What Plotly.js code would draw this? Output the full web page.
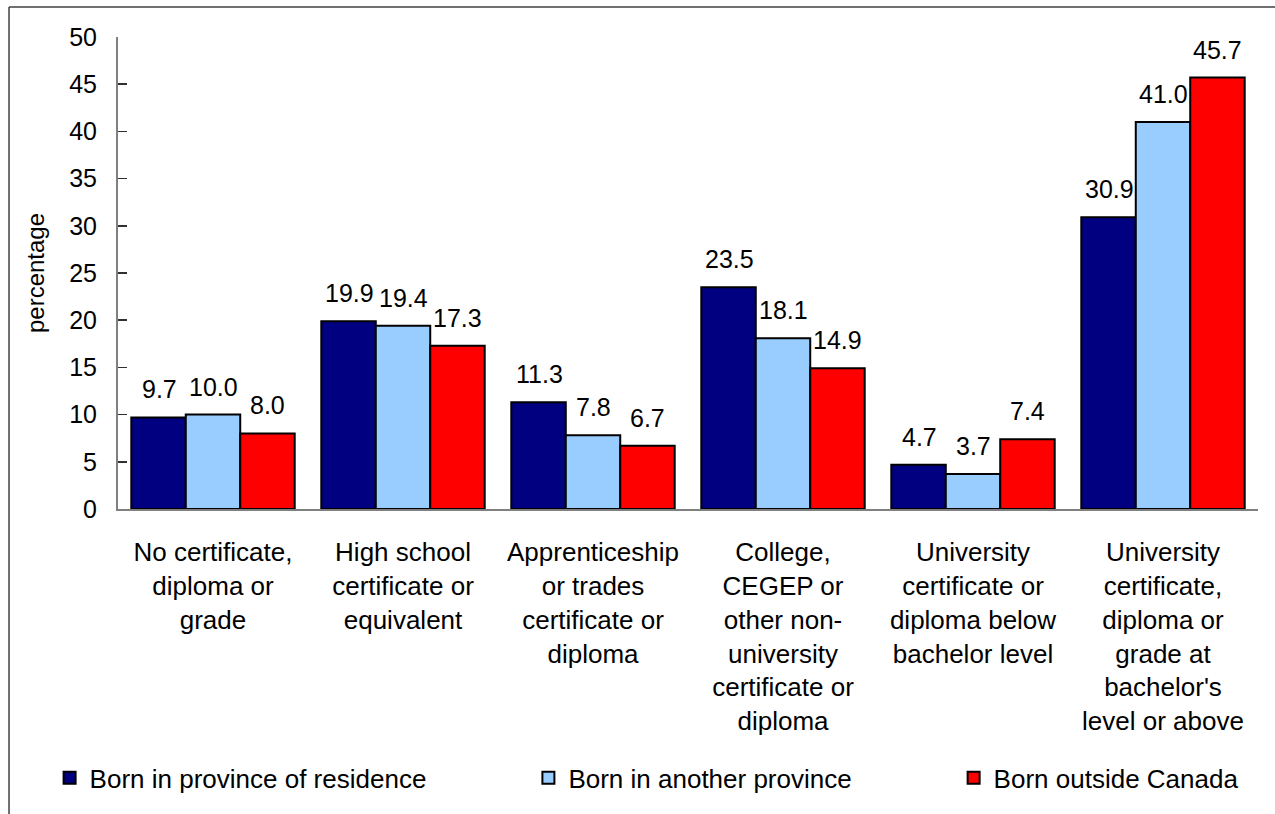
<!DOCTYPE html>
<html>
<head>
<meta charset="utf-8">
<script src="https://cdn.plot.ly/plotly-3.0.1.min.js"></script>
<style>
html,body{margin:0;padding:0;background:#fff;}
#chart{width:1275px;height:814px;}
</style>
</head>
<body>
<div id="chart"></div>
<script>
var categories = [
  "No certificate,<br>diploma or<br>grade",
  "High school<br>certificate or<br>equivalent",
  "Apprenticeship<br>or trades<br>certificate or<br>diploma",
  "College,<br>CEGEP or<br>other non-<br>university<br>certificate or<br>diploma",
  "University<br>certificate or<br>diploma below<br>bachelor level",
  "University<br>certificate,<br>diploma or<br>grade at<br>bachelor's<br>level or above"
];
var seriesNames = ["Born in province of residence", "Born in another province", "Born outside Canada"];
var bornProvince = [9.7, 19.9, 11.3, 23.5, 4.7, 30.9];
var bornAnother = [10.0, 19.4, 7.8, 18.1, 3.7, 41.0];
var bornOutside = [8.0, 17.3, 6.7, 14.9, 7.4, 45.7];
var yTicks = [0, 5, 10, 15, 20, 25, 30, 35, 40, 45, 50];

var seriesValues = [bornProvince, bornAnother, bornOutside];
var colors = ["#000080", "#99CCFF", "#FF0000"];
var legendIds = ["legend", "legend2", "legend3"];
var FONT = "Liberation Sans, Arial, sans-serif";

var traces = seriesValues.map(function(vals, i) {
  return {
    type: "bar",
    x: categories,
    y: vals,
    name: seriesNames[i],
    legend: legendIds[i],
    marker: {color: colors[i], line: {color: "#000000", width: 2}},
    hoverinfo: "skip"
  };
});

// data labels as annotations, shifted to each bar of the group
var barPx = 54;
var annotations = [];
seriesValues.forEach(function(vals, i) {
  vals.forEach(function(v, j) {
    annotations.push({
      x: categories[j], y: v, xref: "x", yref: "y",
      text: v.toFixed(1), showarrow: false,
      xanchor: "center", yanchor: "bottom",
      xshift: (i - 1) * barPx, yshift: 12,
      font: {family: FONT, size: 25, color: "#000"}
    });
  });
});

function legendAt(x) {
  return {
    x: x, y: -0.52, xanchor: "left", yanchor: "top",
    orientation: "h", bgcolor: "rgba(0,0,0,0)",
    font: {family: FONT, size: 26, color: "#000"},
    itemclick: false, itemdoubleclick: false
  };
}

var layout = {
  width: 1275, height: 814,
  margin: {l: 118, r: 17, t: 37, b: 303, pad: 0},
  paper_bgcolor: "#ffffff", plot_bgcolor: "#ffffff",
  font: {family: FONT, size: 25, color: "#000"},
  barmode: "group", bargap: 0.14, bargroupgap: 0,
  showlegend: true,
  legend: legendAt(-0.060),
  legend2: legendAt(0.360),
  legend3: legendAt(0.733),
  xaxis: {
    type: "category",
    showline: true, linecolor: "#808080", linewidth: 2,
    ticks: "", showgrid: false, zeroline: false,
    tickfont: {family: FONT, size: 26, color: "#000"},
    ticklabelstandoff: 19,
    automargin: false
  },
  yaxis: {
    range: [0, 50], tickvals: yTicks, ticktext: yTicks.map(String),
    showline: true, linecolor: "#808080", linewidth: 2,
    ticks: "inside", ticklen: 9, tickwidth: 1.5, tickcolor: "#303030",
    showgrid: false, zeroline: false,
    tickfont: {family: FONT, size: 25, color: "#000"},
    ticklabelstandoff: 14,
    title: {text: "percentage", font: {family: FONT, size: 24, color: "#000"}, standoff: 18},
    automargin: false
  },
  annotations: annotations,
  shapes: [
    {type: "line", xref: "paper", yref: "paper", x0: -0.0956, x1: -0.0956, y0: 1.0633, y1: -0.7,
     line: {color: "#404040", width: 1.5}},
    {type: "line", xref: "paper", yref: "paper", x0: -0.0956, x1: 1.1, y0: 1.0633, y1: 1.0633,
     line: {color: "#404040", width: 1.5}}
  ]
};

Plotly.newPlot("chart", traces, layout, {displayModeBar: false, staticPlot: true});
</script>
</body>
</html>
